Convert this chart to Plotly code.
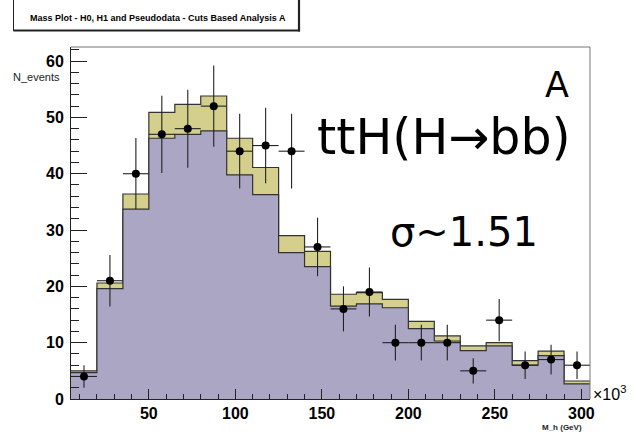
import numpy as np
import plotly.graph_objects as go

# ---- data ----
bin_edges = [5, 20, 35, 50, 65, 80, 95, 110, 125, 140, 155, 170, 185, 200, 215, 230, 245, 260, 275, 290, 305]
h0_background = [4.7, 19.6, 33.7, 46.3, 47.0, 47.6, 39.8, 36.3, 26.0, 23.5, 16.5, 16.9, 16.2, 12.5, 10.3, 8.6, 9.45, 6.0, 7.7, 2.7]
h1_sig_plus_bkg = [5.0, 20.6, 36.4, 50.9, 52.3, 53.8, 46.3, 41.1, 29.0, 26.2, 18.6, 18.9, 17.7, 13.8, 11.2, 9.45, 10.0, 6.8, 8.5, 3.2]
pseudodata = [4, 21, 40, 47, 48, 52, 44, 45, 44, 27, 16, 19, 10, 10, 10, 5, 14, 6, 7, 6]
x_tick_vals = [50, 100, 150, 200, 250, 300]
y_tick_vals = [0, 10, 20, 30, 40, 50, 60]

# ---- layout helpers ----
W, H = 643, 441
L, R, T, B = 71, 590, 47, 399
def fx(px):
    return (px - L) / (R - L)
def fy(py):
    return (B - py) / (B - T)

centers = [(bin_edges[i] + bin_edges[i + 1]) / 2 for i in range(len(pseudodata))]
half_w = [(bin_edges[i + 1] - bin_edges[i]) / 2 for i in range(len(pseudodata))]
err = list(np.sqrt(pseudodata))

fig = go.Figure()
fig.add_trace(go.Scatter(
    x=bin_edges, y=h1_sig_plus_bkg + [h1_sig_plus_bkg[-1]],
    mode="lines", line=dict(shape="hv", color="#333333", width=1.2),
    fill="tozeroy", fillcolor="#d4cf8c", showlegend=False, hoverinfo="skip"))
fig.add_trace(go.Scatter(
    x=bin_edges, y=h0_background + [h0_background[-1]],
    mode="lines", line=dict(shape="hv", color="#333333", width=1.2),
    fill="tozeroy", fillcolor="#aaa6c4", showlegend=False, hoverinfo="skip"))
fig.add_trace(go.Scatter(
    x=centers, y=pseudodata, mode="markers",
    marker=dict(color="black", size=8),
    error_y=dict(type="data", array=err, visible=True, color="#222222", thickness=1.1, width=0),
    error_x=dict(type="data", array=half_w, visible=True, color="#222222", thickness=1.1, width=0),
    showlegend=False))

tickfont = dict(family="Liberation Sans, Arial, sans-serif", size=16, color="black", weight="bold")

fig.update_layout(
    width=W, height=H,
    margin=dict(l=L, r=W - R, t=T, b=H - B, pad=0),
    paper_bgcolor="white", plot_bgcolor="white",
    xaxis=dict(range=[bin_edges[0], bin_edges[-1]], tickvals=x_tick_vals, ticktext=[str(v) for v in x_tick_vals],
               ticks="inside", ticklen=10, tickwidth=1, tickcolor="#222",
               minor=dict(dtick=10, tick0=0, ticks="inside", ticklen=5, tickcolor="#222"),
               showgrid=False, zeroline=False, showline=True, linecolor="#222", linewidth=1,
               tickfont=tickfont),
    yaxis=dict(range=[0, 62.5], tickvals=y_tick_vals, ticktext=[str(v) for v in y_tick_vals],
               ticks="inside", ticklen=16, tickwidth=1, tickcolor="#222",
               minor=dict(dtick=2, tick0=0, ticks="inside", ticklen=8, tickcolor="#222"),
               showgrid=False, zeroline=False, showline=True, linecolor="#222", linewidth=1,
               tickfont=tickfont, ticklabelstandoff=3),
    font=dict(family="Liberation Sans, Arial, sans-serif"),
)

shapes = [
    # frame top/right
    dict(type="line", xref="paper", yref="paper", x0=0, x1=1, y0=1, y1=1, line=dict(color="#777", width=1)),
    dict(type="line", xref="paper", yref="paper", x0=1, x1=1, y0=0, y1=1, line=dict(color="#777", width=1)),
    # title box
    dict(type="line", xref="paper", yref="paper", x0=fx(13.5), x1=fx(13.5), y0=fy(-5), y1=fy(31), line=dict(color="#222", width=1)),
    dict(type="line", xref="paper", yref="paper", x0=fx(13.5), x1=fx(300), y0=fy(30.5), y1=fy(30.5), line=dict(color="#222", width=2.2)),
    dict(type="line", xref="paper", yref="paper", x0=fx(299), x1=fx(299), y0=fy(-5), y1=fy(31.5), line=dict(color="#222", width=2.2)),
]
fig.update_layout(shapes=shapes)

ann = [
    dict(text="<b>Mass Plot - H0, H1 and Pseudodata - Cuts Based Analysis A</b>", x=fx(158), y=fy(18),
         font=dict(size=9, color="black", family="Liberation Sans, Arial, sans-serif"), xanchor="center", yanchor="middle"),
    dict(text="N_events", x=fx(62), y=fy(77), xanchor="right", yanchor="middle",
         font=dict(size=11, color="#222", family="Liberation Sans, Arial, sans-serif")),
    dict(text="<b>M_h (GeV)</b>", x=fx(562), y=fy(428), xanchor="center", yanchor="middle",
         font=dict(size=8, color="#222", family="Liberation Sans, Arial, sans-serif")),
    dict(text="×10<sup>3</sup>", x=fx(591), y=fy(393), xanchor="left", yanchor="middle",
         font=dict(size=16, color="black", family="Liberation Sans, Arial, sans-serif")),
    dict(text="A", x=fx(571), y=fy(85), xanchor="right", yanchor="middle",
         font=dict(size=35, color="black", family="DejaVu Sans, sans-serif")),
    dict(text="ttH(H→bb)", x=fx(573), y=fy(137), xanchor="right", yanchor="middle",
         font=dict(size=49, color="black", family="DejaVu Sans, sans-serif")),
    dict(text="σ~1.51", x=fx(388), y=fy(232), xanchor="left", yanchor="middle",
         font=dict(size=40, color="black", family="DejaVu Sans, sans-serif")),
]
for a in ann:
    a.update(xref="paper", yref="paper", showarrow=False)
fig.update_layout(annotations=ann)

fig.write_html("out.html")
